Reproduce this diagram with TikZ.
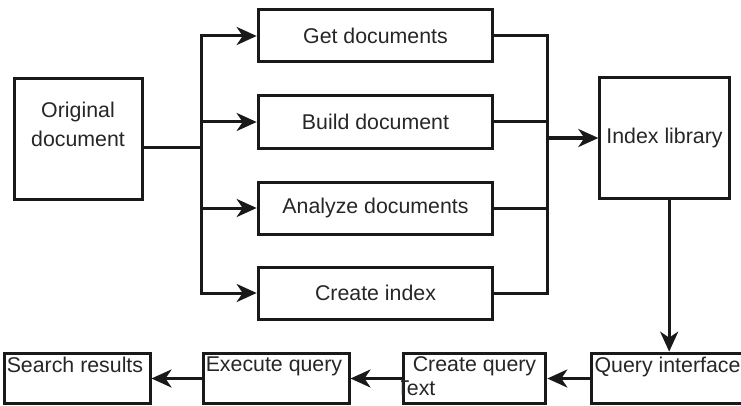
\documentclass[tikz,border=0pt]{standalone}
\usepackage{fontspec}
\setmainfont{Liberation Sans}
\usetikzlibrary{arrows.meta}
\tikzstyle{process}=[draw=black!90, line width=2.25pt, inner sep=0pt]
\tikzstyle{wire}=[draw=black!90, line width=2.25pt]
\tikzstyle{flow}=[wire, -{Stealth[length=15pt, width=13.5pt, inset=4.5pt]}]
\tikzstyle{tag}=[anchor=north west, inner sep=0pt, xshift=3pt, yshift=-3.6pt]

\begin{document}
\begin{tikzpicture}[x=0.75pt, y=-0.75pt, font=\fontsize{16}{21}\selectfont, text=black!85]
  \useasboundingbox (0,0) rectangle (741,406);
  % source
  \node[process, minimum width=96pt, minimum height=90pt] (orig) at (78,139) {};
  \node[align=center, anchor=north, inner sep=0pt, font=\fontsize{16}{21.75}\selectfont] (origtext) at (78,102) {Original\\document};
  % indexing steps
  \node[process, minimum width=176pt, minimum height=39pt] (get) at (375.5,36) {Get documents};
  \node[process, minimum width=176pt, minimum height=39pt] (build) at (375.5,122) {Build document};
  \node[process, minimum width=176pt, minimum height=39pt] (analyze) at (375.5,208) {Analyze documents};
  \node[process, minimum width=176pt, minimum height=39pt] (mkindex) at (375.5,293) {Create index};
  \node[process, minimum width=97pt, minimum height=90pt] (library) at (664.5,138) {Index library};
  % search side
  \node[process, minimum width=115pt, minimum height=38pt, label={[tag]north west:Query interface}] (query) at (668.5,378.5) {};
  \node[process, minimum width=107pt, minimum height=38pt, label={[anchor=north, inner sep=0pt, yshift=-3.6pt]north:Create query}] (makeq) at (474.5,378.5) {};
  \node[process, minimum width=109.5pt, minimum height=38pt, label={[tag]north west:Execute query}] (execute) at (276,378.5) {};
  \node[process, minimum width=109.5pt, minimum height=38pt, label={[tag]north west:Search results}] (results) at (77,378.5) {};
  \begin{scope}
    \clip (makeq.north west) rectangle (makeq.south east);
    \node[inner sep=0pt, anchor=base west] (qtext) at (396,395) {Text};
  \end{scope}
  \coordinate (split) at (201,147);
  \coordinate (merge) at (547,140);
  \draw[wire] (orig.east |- split) -- (split);
  \draw[wire, line cap=rect] (split |- get.west) -- (split |- mkindex.west);
  \draw[wire, line cap=rect] (merge |- get.east) -- (merge |- mkindex.east);
  \foreach \n in {get, build, analyze, mkindex} {
    \draw[flow] (split |- \n.west) -- (\n.west);
    \draw[wire] (\n.east) -- (merge |- \n.east);
  }
  \draw[flow] (merge |- library.west) -- (library.west);
  \draw[flow] ([xshift=3.5pt]library.south) -- ([xshift=3.5pt]library.south |- query.north);
  \draw[flow] (query.west) -- (makeq.east);
  \draw[flow] (makeq.west) -- (execute.east);
  \draw[flow] (execute.west) -- (results.east);
\end{tikzpicture}
\end{document}
